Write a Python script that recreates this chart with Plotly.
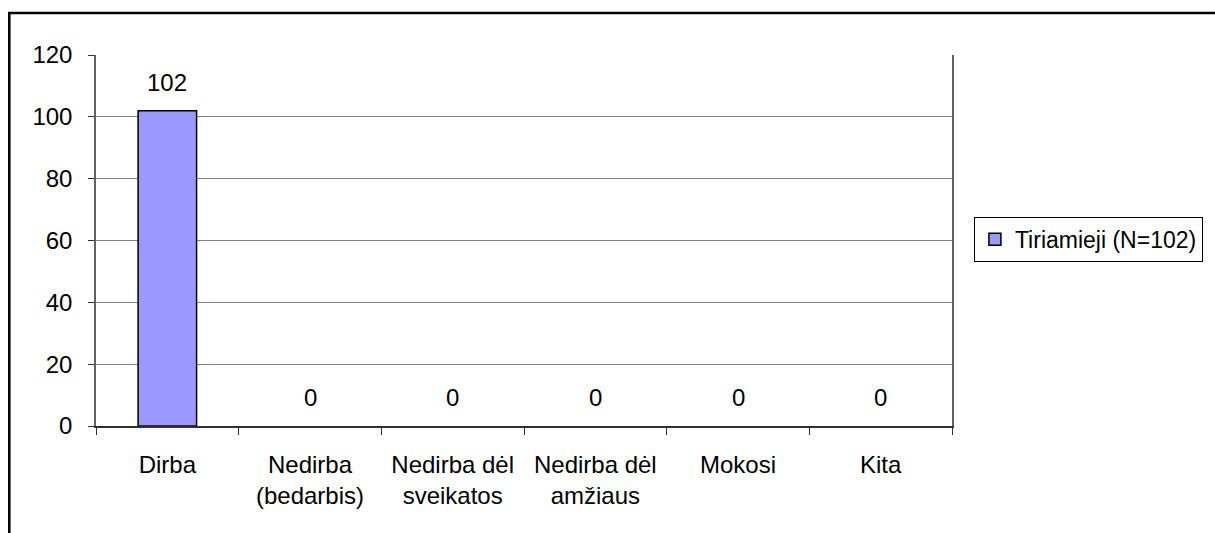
import plotly.graph_objects as go

# Employment status of the surveyed group
categories = [
    "Dirba",
    "Nedirba<br>(bedarbis)",
    "Nedirba dėl<br>sveikatos",
    "Nedirba dėl<br>amžiaus",
    "Mokosi",
    "Kita",
]
values = [102, 0, 0, 0, 0, 0]
series_name = "Tiriamieji (N=102)"
y_ticks = [0, 20, 40, 60, 80, 100, 120]

FONT = "Liberation Sans, Arial, sans-serif"
FS = 24

fig = go.Figure()
fig.add_trace(go.Bar(
    x=categories,
    y=values,
    name=series_name,
    width=0.41,
    marker=dict(
        color="#9999FF",
        # empty columns get no outline
        line=dict(color="#000000", width=[1.5 if v > 0 else 0 for v in values]),
    ),
    showlegend=True,
))

# value labels above each column
for c, v in zip(categories, values):
    fig.add_annotation(
        x=c, y=v, text=str(v), showarrow=False,
        yanchor="bottom", yshift=13,
        font=dict(family=FONT, size=FS, color="#000000"),
    )

# outer chart frame
fig.add_shape(
    type="rect", xref="paper", yref="paper",
    x0=-0.1013, x1=1.5, y0=-0.6, y1=1.1132,
    line=dict(color="#000000", width=2.5), layer="below",
)

fig.update_layout(
    width=1215, height=533,
    margin=dict(l=96, r=260, t=55, b=107),
    paper_bgcolor="#FFFFFF",
    plot_bgcolor="#FFFFFF",
    font=dict(family=FONT, size=FS, color="#000000"),
    legend=dict(
        x=1.0256, xanchor="left",
        y=0.503, yanchor="middle",
        bordercolor="#000000", borderwidth=1,
        font=dict(family=FONT, size=23, color="#000000"),
        itemwidth=30,
    ),
)

fig.update_xaxes(
    type="category",
    showgrid=False,
    showline=True, linecolor="#303030", linewidth=1.5,
    ticks="outside", tickson="boundaries", ticklen=7,
    tickcolor="#303030", tickwidth=1,
    ticklabelstandoff=16,
    tickfont=dict(family=FONT, size=FS, color="#000000"),
)
fig.update_yaxes(
    range=[0, 120],
    tickvals=y_ticks,
    showgrid=True, gridcolor="#808080", gridwidth=1,
    showline=True, linecolor="#606060", linewidth=1.5, mirror=True,
    ticks="outside", ticklen=6, tickcolor="#303030", tickwidth=1,
    ticklabelstandoff=11,
    zeroline=False,
    tickfont=dict(family=FONT, size=FS, color="#000000"),
)

fig.write_html("out.html")
